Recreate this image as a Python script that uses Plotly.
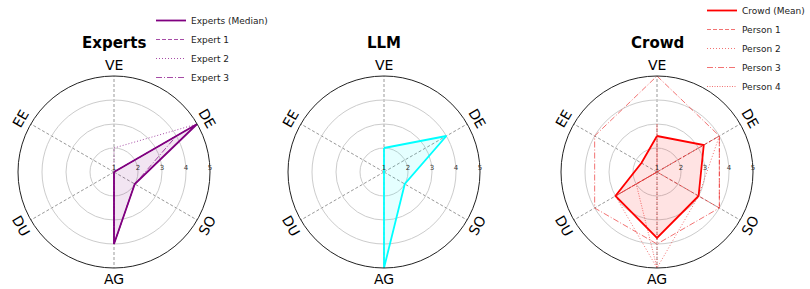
import math
import plotly.graph_objects as go

# ---------------- data ----------------
categories = ["VE", "DE", "SO", "AG", "DU", "EE"]

experts_median = [1, 5, 2, 4, 1, 1]
expert_1 = [1, 5, 2, 4, 1, 1]
expert_2 = [2, 5, 2, 4, 1, 1]
expert_3 = [1, 4, 2, 4, 1, 1]

llm_scores = [2, 4, 2, 5, 1, 1]

crowd_mean = [2.5, 3.25, 3.0, 3.75, 3.0, 1.75]
person_1 = [1, 4, 4, 1, 3, 1]
person_2 = [1, 4, 3, 5, 3, 1]
person_3 = [5, 4, 4, 4, 4, 4]
person_4 = [3, 1, 1, 5, 2, 1]

radial_ticks = [1, 2, 3, 4, 5]
panel_titles = ["Experts", "LLM", "Crowd"]

# ---------------- layout geometry ----------------
W, H = 810, 289
centers_x = [114, 384, 657]
center_y = 172
R = 96
FONT = "DejaVu Sans"


def closed(v):
    return list(v) + [v[0]]


theta = closed(categories)

fig = go.Figure()


def add_filled(vals, color, fillcolor, name, subplot, legend, showlegend=True):
    # fill area (no legend), then outline line
    fig.add_trace(go.Scatterpolar(r=closed(vals), theta=theta, mode="lines",
                                  line=dict(width=0, color=fillcolor), fill="toself",
                                  fillcolor=fillcolor, showlegend=False, hoverinfo="skip",
                                  subplot=subplot))
    fig.add_trace(go.Scatterpolar(r=closed(vals), theta=theta, mode="lines",
                                  line=dict(color=color, width=1.8), name=name,
                                  subplot=subplot, legend=legend, showlegend=showlegend))


# Experts panel
add_filled(experts_median, "#800080", "rgba(128,0,128,0.1)", "Experts (Median)", "polar", "legend")
for vals, nm, dash in [(expert_1, "Expert 1", "4px,2px"), (expert_2, "Expert 2", "1px,2px"),
                       (expert_3, "Expert 3", "6px,2px,1px,2px")]:
    fig.add_trace(go.Scatterpolar(r=closed(vals), theta=theta, mode="lines",
                                  line=dict(color="rgba(128,0,128,0.7)", width=1, dash=dash),
                                  name=nm, subplot="polar", legend="legend"))

# LLM panel
add_filled(llm_scores, "#00ffff", "rgba(0,255,255,0.1)", "LLM", "polar2", "legend", showlegend=False)

# Crowd panel
add_filled(crowd_mean, "#ff0000", "rgba(255,0,0,0.11)", "Crowd (Mean)", "polar3", "legend2")
for vals, nm, dash in [(person_1, "Person 1", "4px,2px"), (person_2, "Person 2", "1px,2px"),
                       (person_3, "Person 3", "6px,2px,1px,2px"), (person_4, "Person 4", "1px,1.5px")]:
    fig.add_trace(go.Scatterpolar(r=closed(vals), theta=theta, mode="lines",
                                  line=dict(color="rgba(235,40,40,0.65)", width=1, dash=dash),
                                  name=nm, subplot="polar3", legend="legend2"))

annotations = []
polar_layouts = {}
for p, cx in enumerate(centers_x):
    key = "polar" if p == 0 else f"polar{p + 1}"
    polar_layouts[key] = dict(
        domain=dict(x=[(cx - R) / W, (cx + R) / W],
                    y=[1 - (center_y + R) / H, 1 - (center_y - R) / H]),
        bgcolor="white",
        angularaxis=dict(categoryorder="array", categoryarray=categories,
                         direction="clockwise", rotation=90,
                         showticklabels=False, ticks="",
                         showline=True, linecolor="#222222", linewidth=1,
                         gridcolor="#999999", gridwidth=0.8, griddash="3px,2px"),
        radialaxis=dict(range=[1, 5], tickvals=radial_ticks, ticktext=[str(t) for t in radial_ticks],
                        showline=False, ticks="", angle=0, side="counterclockwise",
                        gridcolor="#cccccc", gridwidth=1,
                        tickfont=dict(size=7, color="#333333", family=FONT)),
    )
    # panel title
    annotations.append(dict(text=f"<b>{panel_titles[p]}</b>", x=cx / W, y=1 - 43 / H,
                            xref="paper", yref="paper", showarrow=False,
                            font=dict(size=15, color="black", family=FONT),
                            xanchor="center", yanchor="middle"))
    # category labels, rotated tangentially
    for i, cat in enumerate(categories):
        ang = 90 - 60 * i
        rl = R + 11
        x = (cx + rl * math.cos(math.radians(ang))) / W
        y = 1 - (center_y - rl * math.sin(math.radians(ang))) / H
        rot = ang - 90
        while rot <= -90:
            rot += 180
        while rot > 90:
            rot -= 180
        annotations.append(dict(text=cat, x=x, y=y, xref="paper", yref="paper",
                                showarrow=False, textangle=-rot,
                                font=dict(size=14, color="black", family=FONT),
                                xanchor="center", yanchor="middle"))

fig.update_layout(
    width=W, height=H,
    margin=dict(l=0, r=0, t=0, b=0, autoexpand=False),
    paper_bgcolor="white", plot_bgcolor="white",
    font=dict(family=FONT),
    annotations=annotations,
    legend=dict(x=151 / W, y=1 - 6 / H, xanchor="left", yanchor="top",
                font=dict(size=9, color="#222222", family=FONT), bgcolor="rgba(0,0,0,0)"),
    legend2=dict(x=1, y=1 + 4 / H, xanchor="right", yanchor="top",
                 font=dict(size=9, color="#222222", family=FONT), bgcolor="rgba(0,0,0,0)"),
    **polar_layouts,
)

fig.write_html("out.html", config={"displayModeBar": False},
               post_script="document.body.style.margin='0px';")
